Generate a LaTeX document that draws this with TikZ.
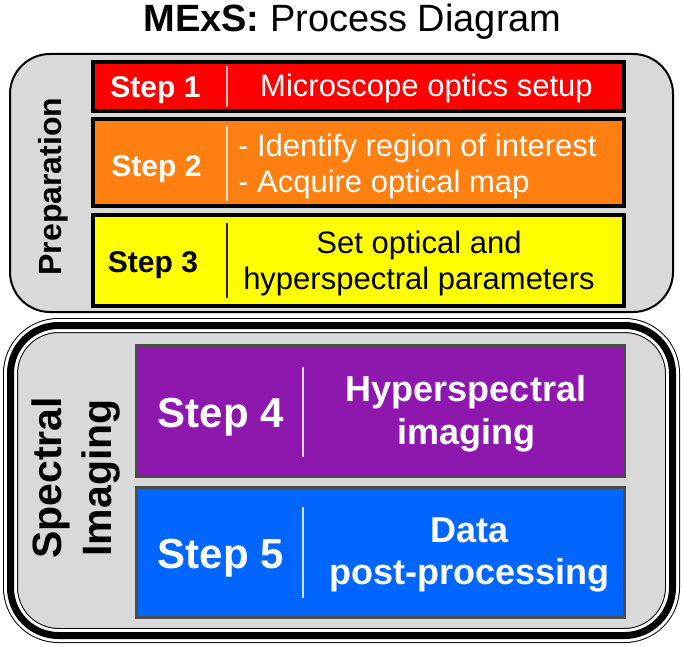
\documentclass[tikz,border=0pt]{standalone}
\usepackage{fontspec}
\setmainfont{Liberation Sans}
\usetikzlibrary{positioning}

\definecolor{stepred}{HTML}{FF0000}
\definecolor{steporange}{HTML}{FF8010}
\definecolor{stepyellow}{HTML}{FFFF00}
\definecolor{steppurple}{HTML}{8E18AE}
\definecolor{stepblue}{HTML}{0066FF}
\definecolor{phasegray}{HTML}{D9D9D9}

\begin{document}
\begin{tikzpicture}
[x=1pt, y=-1pt,
% STYLES
% The phase style is used for the grey rounded container of the preparation
phase/.style={draw=black, fill=phasegray, line width=2pt, rounded corners=40pt},
% The ring style is used for the triple border of the imaging container
ring/.style={rounded corners=48pt},
% The stepbox style is used to draw the coloured box of each step
stepbox/.style={rectangle, draw=black, line width=4pt, minimum width=531pt, inner sep=0pt},
bigbox/.style={rectangle, draw=black!70, line width=3pt, minimum width=488pt, minimum height=130pt, inner sep=0pt},
% The label and note styles are used for the texts inside the boxes
steplabel/.style={inner sep=0pt, anchor=base, font=\fontsize{30}{36}\selectfont\bfseries},
stepnote/.style={inner sep=0pt, font=\fontsize{31}{36}\selectfont},
biglabel/.style={inner sep=0pt, anchor=base, text=white, font=\fontsize{42}{50}\selectfont\bfseries},
bignote/.style={inner sep=0pt, align=center, text=white, font=\fontsize{36}{42.3}\selectfont\bfseries},
phaselabel/.style={inner sep=0pt, rotate=90, align=center},
divider/.style={line width=1.5pt}]

\useasboundingbox (0,0) rectangle (685,647);

% Title
\node [anchor=base, inner sep=0pt, font=\fontsize{38}{45}\selectfont] (title) at (352.5,32)
  {\textbf{MExS:} Process Diagram};

% Containers
\draw [phase] (10,54) rectangle (673,312);
\draw [ring, line width=15pt, fill=phasegray] (10.5,325.5) rectangle (672.5,635.5);
\draw [ring, line width=13pt, white] (10.5,325.5) rectangle (672.5,635.5);
\draw [ring, line width=7pt] (10.5,325.5) rectangle (672.5,635.5);

\node [phaselabel, font=\fontsize{32}{38}\selectfont\bfseries] (prep) at (53,186.5) {Preparation};
\node [phaselabel, font=\fontsize{41}{50}\selectfont\bfseries] (imaging) at (76,478) {Spectral\\Imaging};

% Draw steps
\node [stepbox, fill=stepred, minimum height=49pt] (step1) at (358.5,86.5) {};
\node [stepbox, fill=steporange, minimum height=87pt, below=4pt of step1] (step2) {};
\node [stepbox, fill=stepyellow, minimum height=91pt, below=5pt of step2] (step3) {};
\node [bigbox, fill=steppurple, minimum height=131pt] (step4) at (380.5,411) {};
\node [bigbox, fill=stepblue, below=8pt of step4] (step5) {};

% Dividers
\draw [divider, white!75!stepred] (227,66) -- (227,107);
\draw [divider, white!80!steporange] (227,126) -- (227,201);
\draw [divider, black!85!stepyellow] (227,223) -- (227,298);
\draw [divider, white!80!steppurple] (303,367) -- (303,457);
\draw [divider, white!80!stepblue] (303,507) -- (303,598);

%%%%%%%%%%%%%%%
% Texts of the steps

% Step 1
\node [steplabel, text=white] (lab1) at (155.5,97.5) {Step 1};
\node [stepnote, anchor=base, text=white] (note1) at (426.5,97) {Microscope optics setup};

% Step 2
\node [steplabel, text=white] (lab2) at (156.5,176.5) {Step 2};
\node [stepnote, anchor=west, align=left, text=white] (note2) at (238,166)
  {- Identify region of interest\\- Acquire optical map};

% Step 3
\node [steplabel] (lab3) at (153,272) {Step 3};
\node [stepnote, align=center] (note3) at (419,263)
  {Set optical and\\hyperspectral parameters};

% Step 4
\node [biglabel] (lab4) at (221,427) {Step 4};
\node [bignote] (note4) at (466,413.7) {Hyperspectral\\imaging};

% Step 5
\node [biglabel] (lab5) at (221,568.5) {Step 5};
\node [bignote] (note5) at (469.5,555) {Data\\post-processing};

\end{tikzpicture}
\end{document}
